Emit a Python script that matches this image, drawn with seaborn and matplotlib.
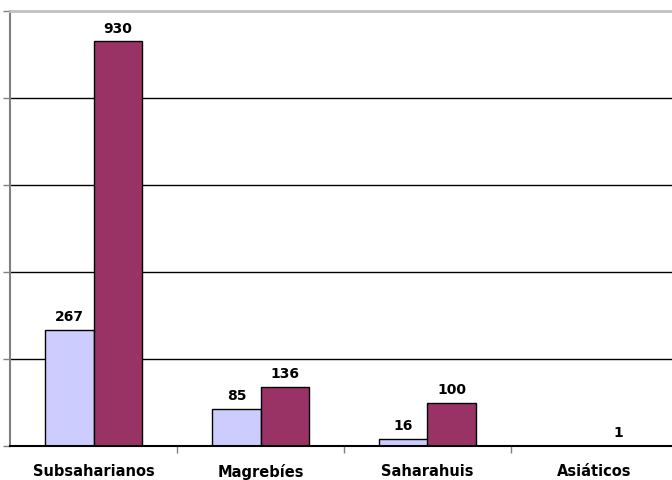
## Inmigrantes por origen - barras agrupadas

import matplotlib
matplotlib.use("Agg")
import matplotlib.pyplot as plt
import seaborn as sns
import pandas as pd
import numpy as np

#----------------------------------------------------
# data
#----------------------------------------------------

categorias = ["Subsaharianos", "Magrebíes", "Saharahuis", "Asiáticos"]
serie_a = [267, 85, 16, None]
serie_b = [930, 136, 100, 1]
series = ["A", "B"]
colores = ["#CCCCFF", "#993366"]

#----------------------------------------------------
# main
#----------------------------------------------------

def main():
    df = pd.DataFrame({
        "cat": categorias * 2,
        "serie": [series[0]] * 4 + [series[1]] * 4,
        "valor": serie_a + serie_b,
    })

    sns.set_style("white")
    plt.rcParams['font.family'] = ['DejaVu Sans']
    plt.rcParams['text.color'] = 'black'
    plt.rcParams['xtick.color'] = 'black'

    fig = plt.figure(figsize=(6.72, 4.81), dpi=100)
    ax = fig.add_axes([10/672, 34/481, 668/672, 435/481])

    sns.barplot(data=df, x="cat", y="valor", hue="serie", order=categorias,
                palette=colores, saturation=1, width=0.575, gap=0,
                edgecolor="black", linewidth=1, legend=False, ax=ax)

    # value labels
    for cont in ax.containers:
        labels = ["" if np.isnan(v) else f"{v:.0f}" for v in cont.datavalues]
        ax.bar_label(cont, labels=labels, padding=5, fontsize=10,
                     fontweight="bold", color="black")

    ax.set_xlim(-0.5, 3.5)
    ax.set_ylim(0, 1000)
    ax.set_yticks([0, 200, 400, 600, 800, 1000])
    ax.set_yticklabels([])
    for yv in [200, 400, 600, 800]:
        ax.axhline(yv, color="black", linewidth=1, zorder=0)

    ax.set_xticks([0.5, 1.5, 2.5], minor=True)
    ax.set_xticks([0, 1, 2, 3])
    ax.set_xticklabels(categorias, fontsize=10.5, fontweight="bold", color="black")
    ax.tick_params(axis="x", which="major", bottom=True, length=0, pad=12)
    ax.tick_params(axis="x", which="minor", bottom=True, length=5,
                   color="#808080", width=1)
    ax.tick_params(axis="y", left=True, length=5, color="#808080", width=1,
                   direction="out")

    ax.set_xlabel("")
    ax.set_ylabel("")

    ax.spines["left"].set_color("#808080")
    ax.spines["bottom"].set_color("black")
    ax.spines["top"].set_color("#C0C0C0")
    ax.spines["right"].set_visible(False)
    for s in ax.spines.values():
        s.set_linewidth(1.5)
    ax.spines["top"].set_linewidth(2)

    fig.savefig("out.png", dpi=100)
    return


if __name__ == '__main__':
    main()
